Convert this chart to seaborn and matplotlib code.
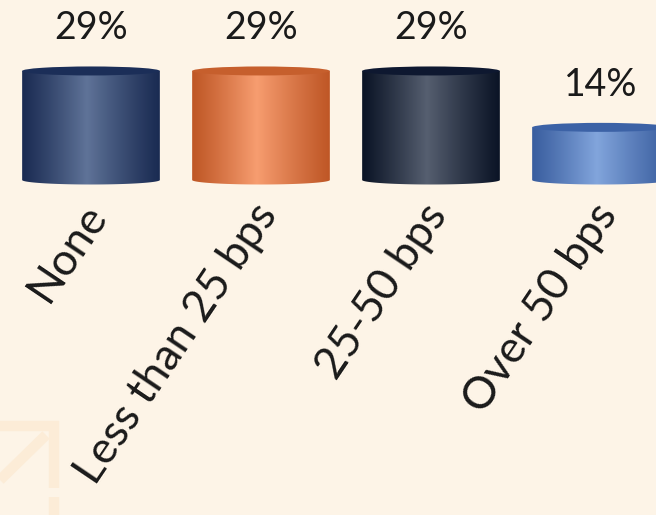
import numpy as np
import pandas as pd
import matplotlib
matplotlib.use("Agg")
import matplotlib.pyplot as plt
import seaborn as sns
from matplotlib.patches import Ellipse, PathPatch
from matplotlib.path import Path
from matplotlib.colors import to_rgb
from matplotlib.lines import Line2D
from matplotlib.transforms import ScaledTranslation

# Survey answers and shares (percent)
categories = ["None", "Less than 25 bps", "25-50 bps", "Over 50 bps"]
shares = [29, 29, 29, 14]
value_labels = ["29%", "29%", "29%", "14%"]

# Cylinder shading: edge colour, highlight colour, top-cap colour
edge_colors = ["#1a2b52", "#bf5726", "#0b1426", "#3a5e9f"]
light_colors = ["#5f7398", "#f79d70", "#565f70", "#82a5dc"]
cap_colors = ["#1b2e58", "#c65f2d", "#0e1830", "#3c62a6"]

BG = "#fdf4e7"

sns.set_theme(style="white")
plt.rcParams["font.family"] = ["Lato", "DejaVu Sans"]

fig = plt.figure(figsize=(6.56, 5.15), dpi=100, facecolor=BG)
W, H = 656, 515
Y_MIN, Y_MAX = -3, 40
ax_left, ax_right = 6, 686
zero_px = 180            # pixel row of the bar base
px_per_unit = 3.76
ax_bottom = zero_px - Y_MIN * px_per_unit
ax_top = zero_px - Y_MAX * px_per_unit
ax = fig.add_axes([ax_left / W, 1 - ax_bottom / H,
                   (ax_right - ax_left) / W, (ax_bottom - ax_top) / H])
ax.set_facecolor(BG)

df = pd.DataFrame({"category": categories, "share": shares})
sns.barplot(data=df, x="category", y="share", hue="category",
            palette=edge_colors, width=0.81, legend=False, ax=ax)
ax.set_xlim(-0.5, 3.5)
ax.set_ylim(Y_MIN, Y_MAX)

cap_h = 9.0 / px_per_unit  # ellipse height in data units

def gradient_row(c_edge, c_light, n=256):
    e = np.array(to_rgb(c_edge))
    l = np.array(to_rgb(c_light))
    t = np.linspace(0, 1, n)
    peak = 0.47
    w = np.where(t < peak, t / peak, (1 - t) / (1 - peak))
    w = np.clip(w, 0, 1) ** 1.1
    return (e[None, :] * (1 - w[:, None]) + l[None, :] * w[:, None])[None, :, :]

for i, bar in enumerate(ax.patches):
    x0 = bar.get_x()
    w = bar.get_width()
    h = bar.get_height()
    xc = x0 + w / 2
    bar.set_alpha(0)
    # body outline: rectangle with an elliptic bottom edge
    theta = np.linspace(np.pi, 2 * np.pi, 60)
    bx = xc + (w / 2) * np.cos(theta)
    by = (cap_h / 2) * np.sin(theta)
    verts = [(x0, h)] + list(zip(bx, by)) + [(x0 + w, h), (x0, h)]
    codes = [Path.MOVETO] + [Path.LINETO] * (len(verts) - 2) + [Path.CLOSEPOLY]
    body = PathPatch(Path(verts, codes), facecolor="none", edgecolor="none")
    ax.add_patch(body)
    img = ax.imshow(gradient_row(edge_colors[i], light_colors[i]),
                    extent=[x0, x0 + w, -cap_h / 2, h], aspect="auto",
                    interpolation="bilinear", zorder=2)
    img.set_clip_path(body)
    ax.add_patch(Ellipse((xc, h), w, cap_h, facecolor=cap_colors[i],
                         edgecolor="none", zorder=3))
    ax.text(xc, h + cap_h / 2 + 5.4, value_labels[i], ha="center", va="bottom",
            fontsize=27, color="#1a1a1a", zorder=4)

ax.set_xlabel("")
ax.set_ylabel("")
ax.set_yticks([])
ax.set_xticks(range(len(categories)))
ax.set_xticklabels(categories, rotation=56, ha="right", va="center",
                   rotation_mode="anchor", fontsize=32, color="#1a1a1a")
ax.tick_params(axis="x", length=0, pad=10)
shift = ScaledTranslation(7 / 100, -3 / 100, fig.dpi_scale_trans)
for lab in ax.get_xticklabels():
    lab.set_transform(lab.get_transform() + shift)
for s in ax.spines.values():
    s.set_visible(False)

# faint corner mark
mark = "#fcecd7"
lw = 7.5
fig.add_artist(Line2D([0, 59 / W], [1 - 426 / H, 1 - 426 / H], color=mark, lw=lw,
                      solid_capstyle="butt"))
fig.add_artist(Line2D([54 / W, 54 / W], [1 - 421 / H, 1 - 488 / H], color=mark, lw=lw,
                      solid_capstyle="butt"))
fig.add_artist(Line2D([54 / W, 54 / W], [1 - 497 / H, 0], color=mark, lw=lw,
                      solid_capstyle="butt"))
fig.add_artist(Line2D([46 / W, 0], [1 - 435 / H, 1 - 480 / H], color=mark, lw=lw,
                      solid_capstyle="butt"))

fig.savefig("out.png", dpi=100, facecolor=BG)
